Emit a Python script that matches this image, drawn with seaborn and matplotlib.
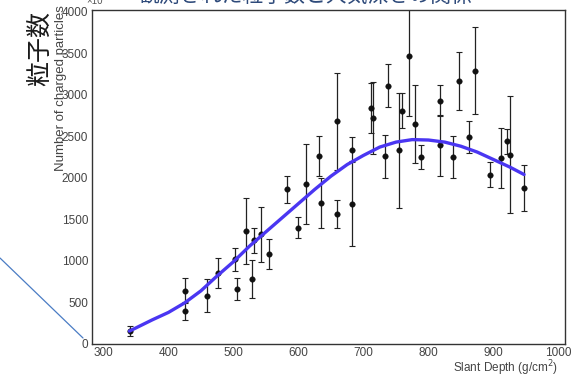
import matplotlib
matplotlib.use("Agg")
import matplotlib.pyplot as plt
from matplotlib.lines import Line2D
from matplotlib.ticker import MultipleLocator
import numpy as np
import pandas as pd
import seaborn as sns

# Measured shower points: slant depth (g/cm^2), particle count, symmetric error
depth = [341, 426, 426, 459, 477, 503, 505, 520, 531, 529, 543, 554, 582, 600,
         612, 632, 634, 659, 659, 683, 683, 711, 714, 733, 738, 755, 760, 770,
         780, 789, 817, 817, 837, 847, 862, 871, 895, 912, 921, 926, 947]
count = [156, 640, 400, 580, 860, 1020, 660, 1360, 1250, 780, 1320, 1080, 1860, 1400,
         1930, 2260, 1700, 2680, 1565, 2340, 1690, 2840, 2720, 2260, 3110, 2330, 2810, 3470,
         2650, 2250, 2930, 2390, 2250, 3170, 2490, 3290, 2040, 2240, 2440, 2280, 1880]
count_err = [60, 150, 110, 200, 180, 140, 130, 400, 150, 230, 330, 180, 160, 130,
             480, 240, 300, 580, 170, 150, 510, 300, 430, 260, 260, 690, 210, 720,
             470, 140, 190, 370, 250, 350, 190, 520, 150, 360, 150, 700, 280]

# Longitudinal profile fit, sampled along slant depth
fit_depth = [340, 375, 400, 425, 450, 475, 500, 525, 550, 575, 600, 625, 650,
             675, 700, 725, 750, 775, 800, 825, 850, 875, 900, 925, 947]
fit_count = [155, 290, 380, 495, 640, 820, 990, 1180, 1350, 1520, 1690, 1860, 2020,
             2160, 2270, 2370, 2430, 2460, 2455, 2430, 2380, 2310, 2220, 2130, 2040]

x_ticks = [300, 400, 500, 600, 700, 800, 900, 1000]
y_ticks = [0, 500, 1000, 1500, 2000, 2500, 3000, 3500, 4000]

points = pd.DataFrame({"depth": depth, "count": count, "err": count_err})
fit = pd.DataFrame({"depth": fit_depth, "count": fit_count})

sns.set_theme(style="white")
plt.rcParams["font.family"] = ["Liberation Sans", "DejaVu Sans"]

W, H = 572, 378
fig = plt.figure(figsize=(W / 100, H / 100), dpi=100)
fig.patch.set_facecolor("white")
L, R, T, B = 91.7, 565, 10, 344
ax = fig.add_axes([L / W, 1 - B / H, (R - L) / W, (B - T) / H])

ax.errorbar(points["depth"], points["count"], yerr=points["err"], fmt="none",
            ecolor="#222222", elinewidth=0.9, capsize=2.2, capthick=0.8, zorder=2)
sns.scatterplot(data=points, x="depth", y="count", ax=ax, color="#111111",
                s=16, edgecolor="#111111", linewidth=0.3, zorder=3, legend=False)
sns.lineplot(data=fit, x="depth", y="count", ax=ax, color="#4a36f2",
             linewidth=2.4, zorder=4, legend=False)

ax.set_xlim(282, 1010)
ax.set_ylim(0, 4020)
ax.set_xticks(x_ticks)
ax.set_yticks(y_ticks)
ax.set_xticklabels([str(v) for v in x_ticks])
ax.set_yticklabels([str(v) for v in y_ticks])
ax.xaxis.set_minor_locator(MultipleLocator(20))
ax.yaxis.set_minor_locator(MultipleLocator(50))
ax.tick_params(which="major", direction="in", length=9, width=0.8,
               color="#333333", labelsize=8.5, labelcolor="#444444", pad=2.5)
ax.tick_params(which="minor", direction="in", length=4.5, width=0.7, color="#333333")
ax.tick_params(top=False, right=False, which="both")
for s in ax.spines.values():
    s.set_color("#333333")
    s.set_linewidth(1.0)
ax.grid(False)

ax.set_xlabel("Slant Depth (g/cm$^{2}$)", loc="right", fontsize=8.5, color="#444444")
ax.xaxis.set_label_coords((558 - L) / (R - L), -(358 - B) / (B - T))
ax.set_ylabel("Number of charged particles", loc="top", fontsize=9.5, color="#444444")
ax.yaxis.set_label_coords(-(L - 67) / (R - L), 1.0 + 5 / (B - T))

# Japanese axis caption and clipped slide title
fig.text(40 / W, 1 - 48 / H, "粒子数", rotation=90, fontsize=18, color="#1a1a1a",
         ha="center", va="center", family=["Noto Sans CJK JP", "DejaVu Sans"])
fig.text(305 / W, 1 + 4 / H, "観測された粒子数と大気深さの関係", fontsize=15,
         color="#2e4a7a", ha="center", va="center",
         family=["Noto Sans CJK JP", "DejaVu Sans"])
fig.text(86 / W, 1 - 1 / H, "×10", fontsize=7, color="#555555", ha="left", va="center")

# pointer line from the caption box
fig.add_artist(Line2D([0, 83 / W], [1 - 258 / H, 1 - 338 / H],
                      transform=fig.transFigure, color="#4a7cc4", linewidth=0.9))

fig.savefig("out.png", dpi=100, facecolor="white")
